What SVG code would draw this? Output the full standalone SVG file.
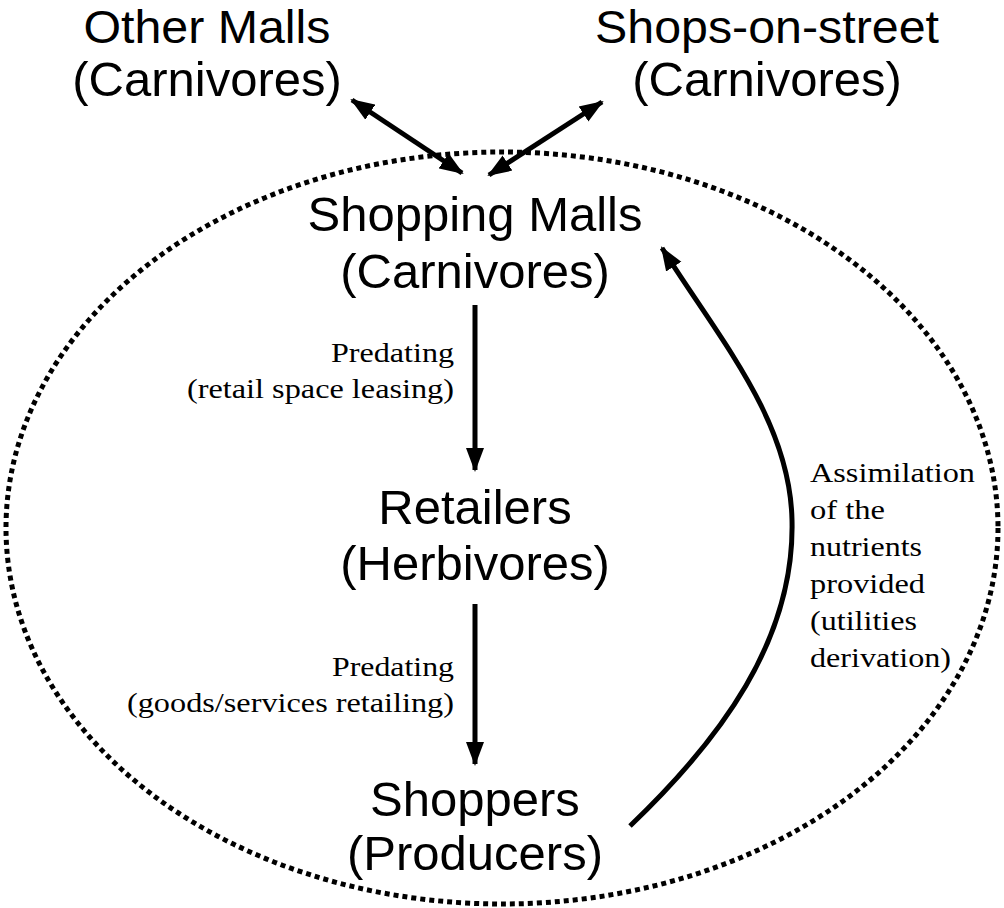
<svg xmlns="http://www.w3.org/2000/svg" width="1004" height="908" viewBox="0 0 1004 908">
<style>
.big{font-family:"Liberation Sans",Arial,sans-serif;font-size:49px;fill:#000;text-anchor:middle}
.top{font-size:46px}
.lbl{font-family:"Liberation Serif","Times New Roman",serif;font-size:28px;fill:#000}
.r{text-anchor:end}
.edge{fill:none;stroke:#000;stroke-width:5}
</style>
<defs>
<marker id="ah" markerUnits="userSpaceOnUse" markerWidth="26" markerHeight="20" refX="22" refY="10" orient="auto-start-reverse" viewBox="0 0 26 20">
<path d="M0 1 L24 10 L0 19 Z" fill="#000"/>
</marker>
</defs>
<ellipse id="boundary" cx="502" cy="528" rx="496" ry="376" fill="none" stroke="#000" stroke-width="5" stroke-dasharray="5 4"/>
<g id="other-malls"><text class="big top" x="207" y="43" textLength="247" lengthAdjust="spacingAndGlyphs">Other Malls</text><text class="big" x="207" y="96">(Carnivores)</text></g>
<g id="shops-on-street"><text class="big top" x="767" y="43" textLength="344" lengthAdjust="spacingAndGlyphs">Shops-on-street</text><text class="big" x="767" y="96">(Carnivores)</text></g>
<g id="shopping-malls"><text class="big" x="475" y="231">Shopping Malls</text><text class="big" x="475" y="288">(Carnivores)</text></g>
<g id="retailers"><text class="big" x="475" y="524">Retailers</text><text class="big" x="475" y="580">(Herbivores)</text></g>
<g id="shoppers"><text class="big" x="475" y="816">Shoppers</text><text class="big" x="475" y="870">(Producers)</text></g>
<g id="connectors">
<line class="edge" x1="352" y1="100" x2="462" y2="173" marker-start="url(#ah)" marker-end="url(#ah)"/>
<line class="edge" x1="602" y1="102" x2="489" y2="175" marker-start="url(#ah)" marker-end="url(#ah)"/>
<line class="edge" x1="475" y1="305" x2="475" y2="470" marker-end="url(#ah)"/>
<line class="edge" x1="475" y1="604" x2="475" y2="764" marker-end="url(#ah)"/>
<path class="edge" d="M 630 826 C 720 740, 795 640, 792 520 C 790 420, 720 340, 662 248" marker-end="url(#ah)"/>
<text class="lbl r" x="454" y="362" textLength="123" lengthAdjust="spacingAndGlyphs">Predating</text>
<text class="lbl r" x="454" y="398" textLength="267" lengthAdjust="spacingAndGlyphs">(retail space leasing)</text>
<text class="lbl r" x="454" y="676" textLength="122" lengthAdjust="spacingAndGlyphs">Predating</text>
<text class="lbl r" x="454" y="712" textLength="327" lengthAdjust="spacingAndGlyphs">(goods/services retailing)</text>
<text class="lbl" x="810" y="482" textLength="165" lengthAdjust="spacingAndGlyphs">Assimilation</text>
<text class="lbl" x="810" y="519" textLength="75" lengthAdjust="spacingAndGlyphs">of the</text>
<text class="lbl" x="810" y="556" textLength="112" lengthAdjust="spacingAndGlyphs">nutrients</text>
<text class="lbl" x="810" y="593" textLength="115" lengthAdjust="spacingAndGlyphs">provided</text>
<text class="lbl" x="810" y="630" textLength="107" lengthAdjust="spacingAndGlyphs">(utilities</text>
<text class="lbl" x="810" y="667" textLength="141" lengthAdjust="spacingAndGlyphs">derivation)</text>
</g>
</svg>
